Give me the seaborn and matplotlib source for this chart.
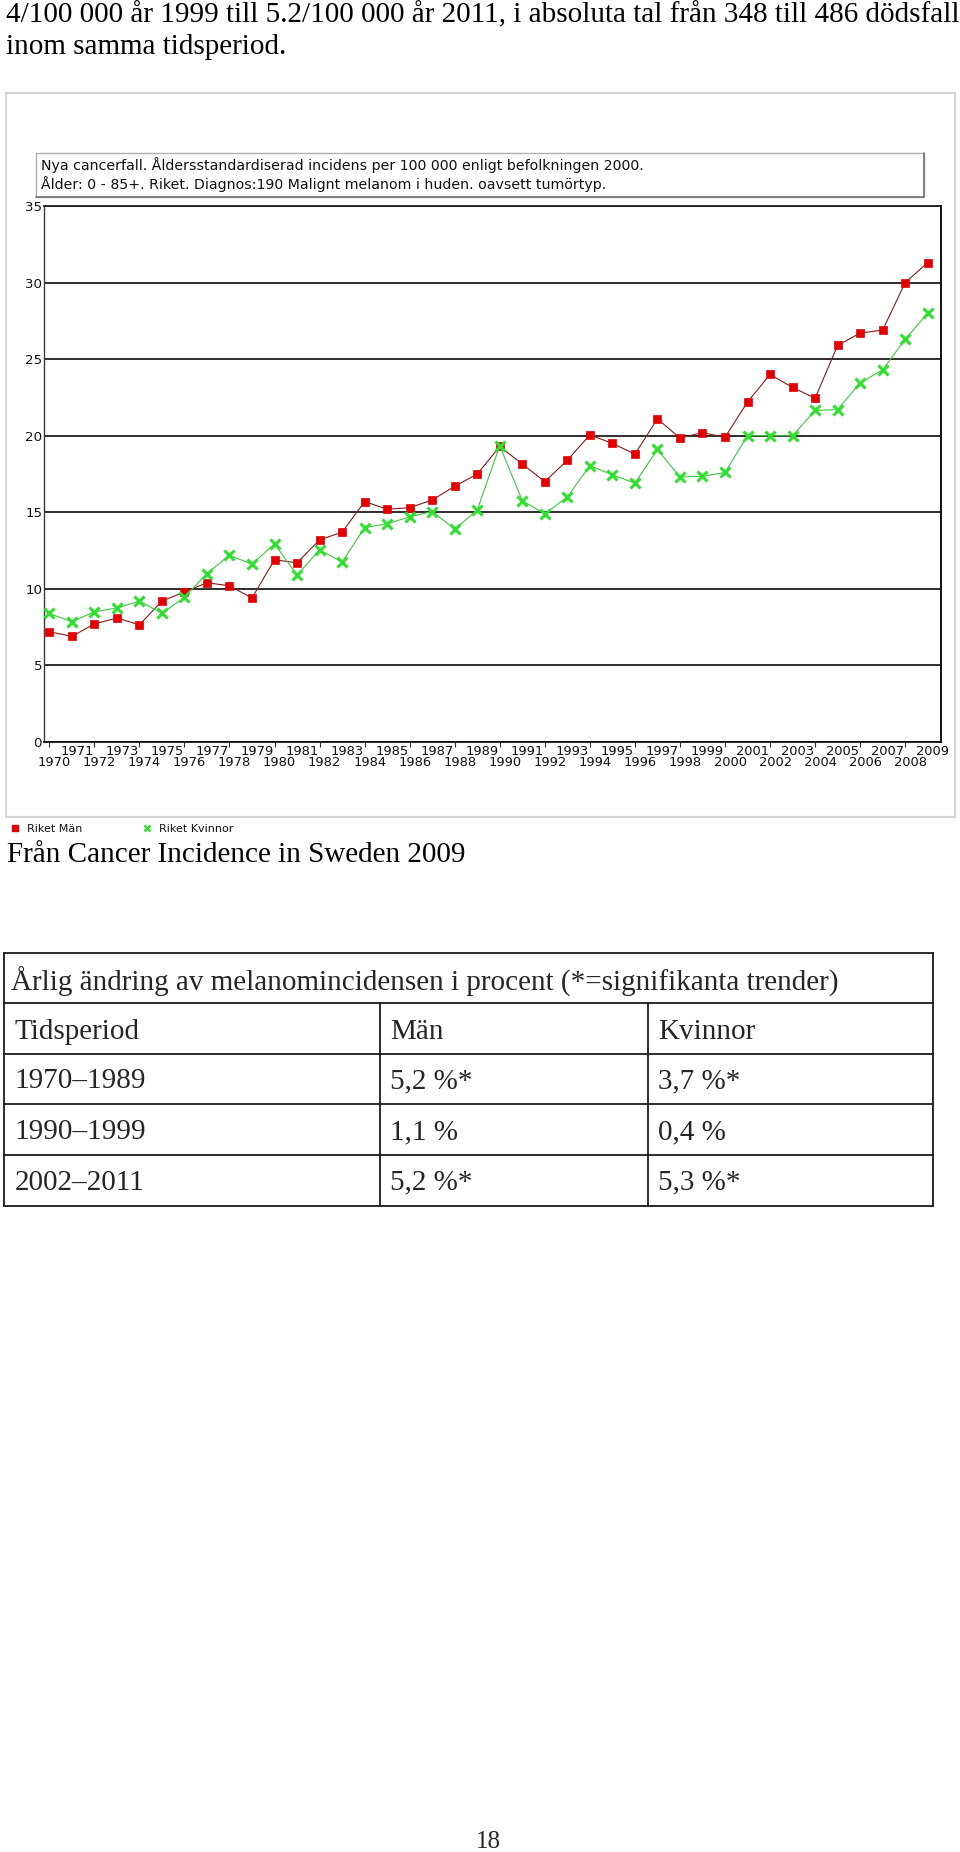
import matplotlib
matplotlib.use("Agg")
import matplotlib.pyplot as plt
import matplotlib.transforms as mtransforms
from matplotlib.patches import Rectangle
from matplotlib.lines import Line2D
import seaborn as sns
import pandas as pd

# ---------------- data ----------------
years = [1970, 1971, 1972, 1973, 1974, 1975, 1976, 1977, 1978, 1979,
         1980, 1981, 1982, 1983, 1984, 1985, 1986, 1987, 1988, 1989,
         1990, 1991, 1992, 1993, 1994, 1995, 1996, 1997, 1998, 1999,
         2000, 2001, 2002, 2003, 2004, 2005, 2006, 2007, 2008, 2009]
men = [7.2, 6.9, 7.7, 8.1, 7.65, 9.2, 9.8, 10.4, 10.2, 9.4,
       11.9, 11.7, 13.2, 13.7, 15.7, 15.2, 15.3, 15.8, 16.7, 17.5,
       19.3, 18.15, 17.0, 18.4, 20.05, 19.5, 18.8, 21.1, 19.85, 20.2,
       19.9, 22.2, 24.0, 23.15, 22.45, 25.9, 26.7, 26.9, 30.0, 31.3]
women = [8.4, 7.85, 8.5, 8.75, 9.2, 8.4, 9.45, 11.0, 12.2, 11.6,
         12.95, 10.9, 12.55, 11.75, 14.0, 14.25, 14.7, 15.05, 13.9, 15.15,
         19.35, 15.75, 14.9, 16.0, 18.05, 17.45, 16.9, 19.1, 17.3, 17.35,
         17.6, 20.0, 20.0, 20.0, 21.65, 21.7, 23.45, 24.3, 26.3, 28.0]
series_names = ["Riket Män", "Riket Kvinnor"]
y_ticks = [0, 5, 10, 15, 20, 25, 30, 35]

intro_lines = ["4/100 000 år 1999 till 5.2/100 000 år 2011, i absoluta tal från 348 till 486 dödsfall",
               "inom samma tidsperiod."]
box_lines = ["Nya cancerfall. Åldersstandardiserad incidens per 100 000 enligt befolkningen 2000.",
             "Ålder: 0 - 85+. Riket. Diagnos:190 Malignt melanom i huden. oavsett tumörtyp."]
source_text = "Från Cancer Incidence in Sweden 2009"
table_title = "Årlig ändring av melanomincidensen i procent (*=signifikanta trender)"
table_header = ["Tidsperiod", "Män", "Kvinnor"]
table_periods = ["1970–1989", "1990–1999", "2002–2011"]
table_men = ["5,2 %*", "1,1 %", "5,2 %*"]
table_women = ["3,7 %*", "0,4 %", "5,3 %*"]
page_number = "18"

# ---------------- styling ----------------
W, H = 960, 1852
sns.set_theme(style="white")
plt.rcParams['font.family'] = ['DejaVu Sans']
SERIF = ['Liberation Serif', 'DejaVu Serif']
SERIF_SIZE = 21

MEN_MARK = '#e30000'
MEN_LINE = '#8a1a1a'
WOM_COL = '#2fe02f'
WOM_LINE = '#3cc83c'

fig = plt.figure(figsize=(W / 100, H / 100), dpi=100)
fig.patch.set_facecolor('white')

# page overlay in pixel coordinates
page = fig.add_axes([0, 0, 1, 1])
page.set_xlim(0, W)
page.set_ylim(H, 0)
page.axis('off')

# intro text
page.text(6, 22.5, intro_lines[0], family=SERIF, fontsize=SERIF_SIZE, va='baseline', ha='left', color='black')
page.text(6, 53.5, intro_lines[1], family=SERIF, fontsize=SERIF_SIZE, va='baseline', ha='left', color='black')

# outer chart frame
page.add_patch(Rectangle((6, 93), 949, 724, fill=False, edgecolor='#d6d6d6', lw=1.6))
# title box
page.add_patch(Rectangle((36, 153), 888, 44, facecolor='white', edgecolor='#b0b0b0', lw=1.0))
page.plot([36, 924, 924], [197, 197, 153], color='#7a7a7a', lw=1.3)
page.text(40.7, 165, box_lines[0], fontsize=10.2, va='center', ha='left', color='#111111')
page.text(40.7, 184.5, box_lines[1], fontsize=10.2, va='center', ha='left', color='#111111')

# source text
page.text(6.7, 861.7, source_text, family=SERIF, fontsize=SERIF_SIZE, va='baseline', ha='left', color='black')

# table
tx0, tx1 = 4.3, 933.3
col1, col2 = 380, 648.3
row_y = [952.7, 1003.3, 1054.3, 1104.3, 1155, 1206]
for yy in row_y:
    page.plot([tx0, tx1], [yy, yy], color='#1a1a1a', lw=1.3, solid_capstyle='projecting')
page.plot([tx0, tx0], [row_y[0], row_y[-1]], color='#1a1a1a', lw=1.3)
page.plot([tx1, tx1], [row_y[0], row_y[-1]], color='#1a1a1a', lw=1.3)
page.plot([col1, col1], [row_y[1], row_y[-1]], color='#1a1a1a', lw=1.3)
page.plot([col2, col2], [row_y[1], row_y[-1]], color='#1a1a1a', lw=1.3)

page.text(11, 990.5, table_title, family=SERIF, fontsize=SERIF_SIZE, va='baseline', ha='left')
baselines = [1039.3, 1088.5, 1139, 1189.5]
col_x = [14.3, col1 + 10, col2 + 10]
rows = [table_header] + [[p, m, w] for p, m, w in zip(table_periods, table_men, table_women)]
for bl, row in zip(baselines, rows):
    for cx, txt in zip(col_x, row):
        page.text(cx, bl, txt, family=SERIF, fontsize=SERIF_SIZE, va='baseline', ha='left')

# page number
page.text(488, 1848, page_number, family=SERIF, fontsize=18, va='baseline', ha='center')

# ---------------- chart ----------------
ax_l, ax_r, ax_t, ax_b = 44.3, 941.0, 206.0, 742.0
ax = fig.add_axes([ax_l / W, 1 - ax_b / H, (ax_r - ax_l) / W, (ax_b - ax_t) / H])
ax.set_facecolor('white')

df = pd.DataFrame({"year": years * 2,
                   "value": men + women,
                   "series": [series_names[0]] * len(years) + [series_names[1]] * len(years)})

sns.lineplot(data=df[df.series == series_names[0]], x="year", y="value", ax=ax,
             color=MEN_LINE, lw=0.8, marker='s', markersize=5.4,
             markerfacecolor=MEN_MARK, markeredgecolor=MEN_MARK, markeredgewidth=0.5,
             legend=False, zorder=3)
sns.lineplot(data=df[df.series == series_names[1]], x="year", y="value", ax=ax,
             color=WOM_LINE, lw=0.8, marker='x', markersize=6.5,
             markeredgecolor=WOM_COL, markeredgewidth=2.2,
             legend=False, zorder=4)

ax.set_xlim(1969.778, 2009.59)
ax.set_ylim(0, 35)
ax.set_xlabel('')
ax.set_ylabel('')

ax.set_yticks(y_ticks)
ax.set_yticklabels([str(v) for v in y_ticks])
ax.yaxis.grid(True, color='#1e1e1e', lw=1.3)
ax.xaxis.grid(False)
ax.set_axisbelow(True)
ax.tick_params(axis='y', length=0, pad=1.6, labelsize=9.6, labelcolor='#111111')

even_years = [y for y in years if y % 2 == 0]
odd_years = [y for y in years if y % 2 == 1]
ax.set_xticks(even_years)
ax.set_xticklabels([str(y) for y in even_years])
ax.set_xticks(odd_years, minor=True)
ax.set_xticklabels([str(y) for y in odd_years], minor=True)
ax.tick_params(axis='x', which='major', bottom=True, length=3.6, width=0.8, color='#333333',
               direction='out', pad=6.8, labelsize=9.4, labelcolor='#111111')
ax.tick_params(axis='x', which='minor', bottom=True, length=0, pad=2.4,
               labelsize=9.4, labelcolor='#111111')
shift = mtransforms.ScaledTranslation(5 / 100, 0, fig.dpi_scale_trans)
for lbl in ax.get_xticklabels(which='both'):
    lbl.set_transform(lbl.get_transform() + shift)

for side, col, lw in [('left', '#3a3a3a', 1.0), ('right', '#111111', 1.4),
                      ('bottom', '#111111', 1.3), ('top', '#1e1e1e', 1.3)]:
    ax.spines[side].set_visible(True)
    ax.spines[side].set_color(col)
    ax.spines[side].set_linewidth(lw)

# legend below the chart frame
handles = [Line2D([], [], linestyle='none', marker='s', markersize=4.5,
                  markerfacecolor=MEN_MARK, markeredgecolor=MEN_MARK),
           Line2D([], [], linestyle='none', marker='x', markersize=5,
                  markeredgecolor=WOM_COL, markeredgewidth=1.8)]
fig.legend(handles, series_names, loc='center left', bbox_to_anchor=(11.2, 828.8),
           bbox_transform=page.transData, ncol=2, frameon=False, fontsize=8,
           handlelength=0.6, handletextpad=0.81, columnspacing=5.5,
           borderpad=0, borderaxespad=0, labelcolor='#111111')

fig.savefig('out.png', dpi=100, facecolor='white')
